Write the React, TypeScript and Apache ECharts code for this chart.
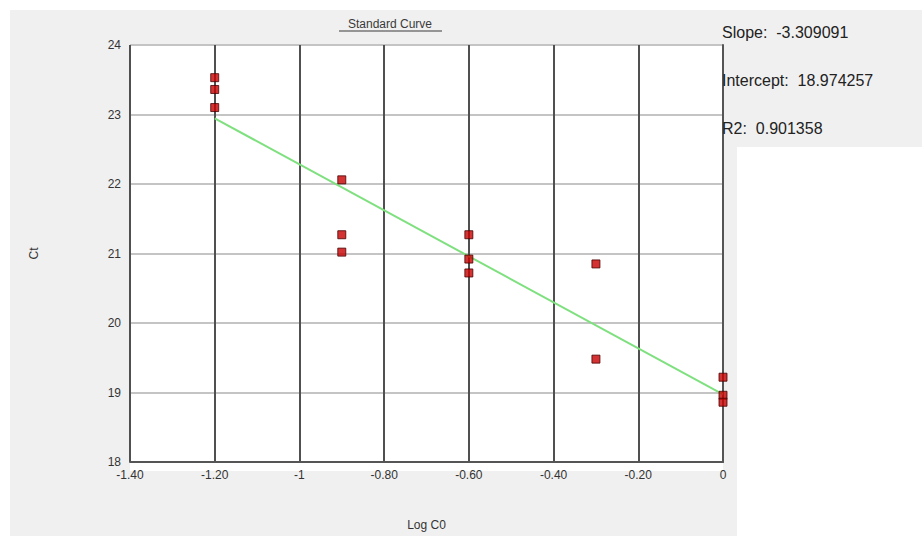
import React, { useEffect, useRef } from "react";
import * as echarts from "echarts";

const xTickLabels = ["-1.40", "-1.20", "-1", "-0.80", "-0.60", "-0.40", "-0.20", "0"];
const yTickLabels = ["18", "19", "20", "21", "22", "23", "24"];

const logC0 = [-1.2, -1.2, -1.2, -0.9, -0.9, -0.9, -0.6, -0.6, -0.6, -0.3, -0.3, 0, 0, 0];
const ctValues = [23.53, 23.36, 23.1, 22.06, 21.27, 21.02, 21.27, 20.92, 20.72, 20.85, 19.48, 19.22, 18.96, 18.86];

const fitX = [-1.2, 0];
const fitY = [22.945, 18.974];

const statLabels = ["Slope:  -3.309091", "Intercept:  18.974257", "R2:  0.901358"];

const FONT = "'Liberation Sans', Arial, sans-serif";

export default function App() {
  const ref = useRef<HTMLDivElement>(null);
  useEffect(() => {
    if (!ref.current) return;
    const chart = echarts.init(ref.current, null, { renderer: "svg" });
    const points = logC0.map((x, i) => [x, ctValues[i]]);
    const fit = fitX.map((x, i) => [x, fitY[i]]);
    chart.setOption({
      animation: false,
      backgroundColor: "#ffffff",
      textStyle: { fontFamily: FONT },
      grid: {
        left: 130,
        top: 45,
        width: 593,
        height: 426,
        show: false,
      },
      graphic: [
        { type: "rect", z: -100, silent: true, shape: { x: 10, y: 10, width: 727, height: 526 }, style: { fill: "#f0f0f0" } },
        { type: "rect", z: -100, silent: true, shape: { x: 718, y: 10, width: 204, height: 137 }, style: { fill: "#f0f0f0" } },
        { type: "rect", z: -90, silent: true, shape: { x: 130, y: 45, width: 593, height: 426 }, style: { fill: "#ffffff" } },
        {
          type: "text",
          z: 10,
          x: 390,
          y: 24,
          style: { text: "Standard Curve", fill: "#3a3a3a", font: `12px ${FONT}`, align: "center", verticalAlign: "middle" },
        },
        { type: "line", z: 10, shape: { x1: 339, y1: 31, x2: 442, y2: 31 }, style: { stroke: "#3a3a3a", lineWidth: 1 } },
        ...statLabels.map((t, i) => ({
          type: "text",
          z: 10,
          x: 722,
          y: 32 + i * 48,
          style: { text: t, fill: "#222", font: `16px ${FONT}`, align: "left", verticalAlign: "middle" },
        })),
      ],
      xAxis: {
        type: "value",
        min: -1.4,
        max: 0,
        interval: 0.2,
        name: "Log C0",
        nameLocation: "middle",
        nameGap: 57,
        nameTextStyle: { color: "#333", fontSize: 12 },
        axisLine: { show: true, onZero: false, lineStyle: { color: "#555", width: 2 } },
        axisTick: { show: false },
        axisLabel: {
          color: "#333",
          fontSize: 12,
          margin: 7,
          formatter: (v: number) => xTickLabels[Math.round((v + 1.4) / 0.2)] ?? "",
        },
        splitLine: { show: true, lineStyle: { color: "#505050", width: 2 } },
      },
      yAxis: {
        type: "value",
        min: 18,
        max: 24,
        interval: 1,
        name: "Ct",
        nameLocation: "middle",
        nameGap: 90,
        nameTextStyle: { color: "#333", fontSize: 12 },
        axisLine: { show: true, lineStyle: { color: "#555", width: 2 } },
        axisTick: { show: false },
        axisLabel: {
          color: "#333",
          fontSize: 12,
          margin: 9,
          formatter: (v: number) => yTickLabels[Math.round(v - 18)] ?? "",
        },
        splitLine: { show: true, lineStyle: { color: "#c4c4c4", width: 2 } },
      },
      series: [
        {
          type: "line",
          data: fit,
          symbol: "none",
          lineStyle: { color: "#7fe07f", width: 2 },
          z: 3,
        },
        {
          type: "scatter",
          data: points,
          symbol: "rect",
          symbolSize: 8,
          itemStyle: { color: "#c80000", borderColor: "#4a0000", borderWidth: 1 },
          z: 4,
        },
      ],
    });
    return () => chart.dispose();
  }, []);
  return (
    <div
      ref={ref}
      style={{ position: "fixed", left: 0, top: 0, width: 922, height: 536 }}
    />
  );
}
